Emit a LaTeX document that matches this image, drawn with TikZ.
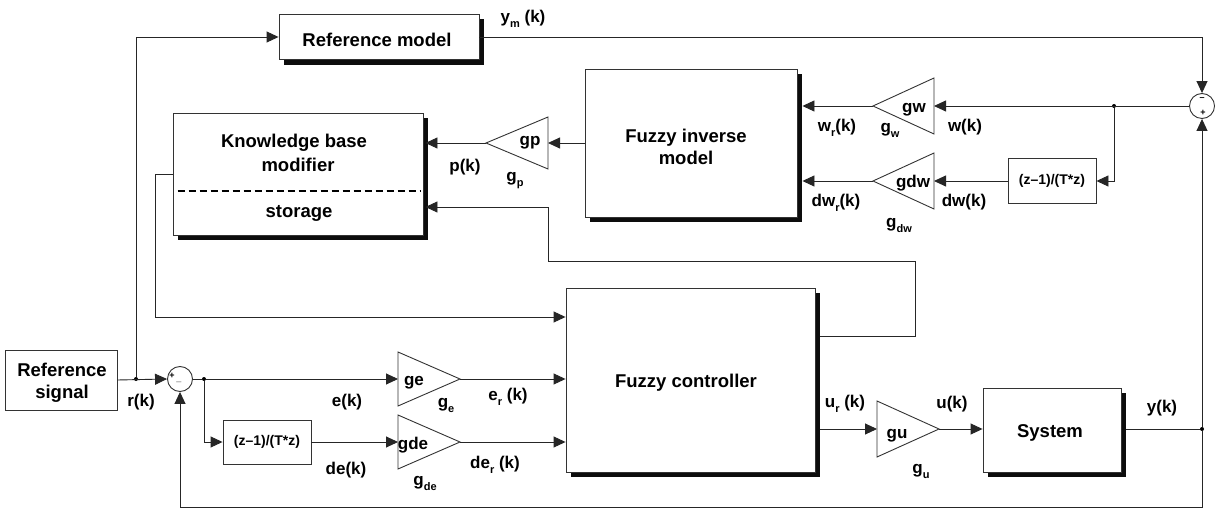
\documentclass[tikz,border=0pt]{standalone}
\usepackage{fontspec}
\setmainfont{Liberation Sans}
\usetikzlibrary{arrows.meta,calc,backgrounds}
\newcommand{\lsub}[1]{\raisebox{-5pt}{\fontsize{11}{11}\selectfont #1}}
\begin{document}
\begin{tikzpicture}[x=1pt,y=-1pt,
 ln/.style={draw=black!85, line width=0.9pt},
 arr/.style={ln, -{Triangle[length=12pt,width=11pt]}},
 blk/.style={draw=black!80, line width=0.9pt, fill=white, rectangle, inner sep=0pt},
 shd/.style={blk},
 shadowfill/.style={fill=black!95},
 big/.style={font=\fontsize{18.5}{22}\selectfont\bfseries, align=center, inner sep=0pt},
 lbl/.style={font=\fontsize{17}{20}\selectfont\bfseries, inner sep=0pt},
 small/.style={font=\fontsize{14}{16}\selectfont\bfseries, inner sep=0pt},
 sumc/.style={circle, draw=black!80, line width=0.9pt, minimum size=25pt, inner sep=0pt, fill=white},
 sgn/.style={font=\fontsize{9}{9}\selectfont\bfseries, inner sep=0pt},
 gain/.style={draw=black!80, line width=0.9pt, fill=white},
 dot/.style={circle, fill=black, inner sep=0pt, minimum size=4pt},
]
\useasboundingbox (0,0) rectangle (1217,518);

% boxes
\node[shd, minimum width=200pt, minimum height=45pt] (refm) at (379,37) {};
\node[big] (refmt) at (377,40) {Reference model};
\node[shd, minimum width=250pt, minimum height=122pt] (kb) at (298,174) {};
\node[big] (kbt1) at (294,143) {Knowledge base};
\node[big] (kbt2) at (298,165) {modifier};
\node[big] (kbt3) at (299,213) {storage};
\draw[line width=1.2pt, dash pattern=on 7.5pt off 3.5pt] ($(kb.west)+(5,17)$) -- ($(kb.east)+(-3,17)$);
\node[shd, minimum width=212pt, minimum height=148pt] (fim) at (691,143) {};
\node[big] (fimt) at (686,147) {Fuzzy inverse\\model};
\node[shd, minimum width=249pt, minimum height=184pt] (fc) at (690.5,380) {};
\node[big] (fct) at (686,383) {Fuzzy controller};
\node[shd, minimum width=138pt, minimum height=84pt] (sys) at (1052,430) {};
\node[big] (syst) at (1050,433) {System};
\node[blk, minimum width=112pt, minimum height=60pt] (refs) at (61,380) {};
\node[big] (refst) at (62,383) {Reference\\signal};
\node[blk, minimum width=88pt, minimum height=44pt, small] (d1) at (267,442) {(z--1)/(T*z)};
\node[blk, minimum width=88pt, minimum height=45pt, small] (d2) at (1052,181) {(z--1)/(T*z)};

\begin{scope}[on background layer]
\fill[white] (0,0) rectangle (1217,518);
\foreach \b in {refm,kb,fim,fc,sys}
  \fill[shadowfill] ($(\b.north west)+(5,5)$) rectangle ($(\b.south east)+(5,5)$);
\end{scope}

% sum junctions
\node[sumc] (s1) at (180,379) {};
\node[sgn] (s1p) at (172,376) {+};
\node[sgn] (s1m) at (179,382) {\_};
\node[sumc] (s2) at (1202,106) {};
\node[sgn] (s2m) at (1202,99) {--};
\node[sgn] (s2p) at (1203,113) {+};

% gains (right pointing)
\path[gain] (398,352) -- (460,379) -- (398,406) -- cycle;
\coordinate (ge-in) at (398,379); \coordinate (ge-out) at (460,379);
\path[gain] (398,415) -- (460,442) -- (398,469) -- cycle;
\coordinate (gde-in) at (398,442); \coordinate (gde-out) at (460,442);
\path[gain] (877,401) -- (939,429) -- (877,457) -- cycle;
\coordinate (gu-in) at (877,429); \coordinate (gu-out) at (939,429);
% gains (left pointing)
\path[gain] (548,117) -- (486,143) -- (548,169) -- cycle;
\coordinate (gp-in) at (548,143); \coordinate (gp-out) at (486,143);
\path[gain] (934,78) -- (873,106) -- (934,134) -- cycle;
\coordinate (gw-in) at (934,106); \coordinate (gw-out) at (873,106);
\path[gain] (934,153) -- (873,181) -- (934,209) -- cycle;
\coordinate (gdw-in) at (934,181); \coordinate (gdw-out) at (873,181);

\node[lbl] (get) at (414,383) {ge};
\node[lbl] (gdet) at (413,445) {gde};
\node[lbl] (gut) at (897,436) {gu};
\node[lbl] (gpt) at (530,143) {gp};
\node[lbl] (gwt) at (914,110) {gw};
\node[lbl] (gdwt) at (913,183) {gdw};

% junction dots
\node[dot] (jr) at (136,379) {};
\node[dot] (je) at (204,379) {};
\node[dot] (jw) at (1114,106) {};
\node[dot] (jy) at (1202,429) {};
\coordinate (ymc) at (1202,37);
\coordinate (fbr) at (1202,507);
\coordinate (kbo) at (155,317);
\coordinate (k1) at (915,261);
\coordinate (k2) at (548,207);

% connectors
\draw[arr] (refs.east) -- (s1.west);
\draw[arr] (jr) |- (refm.west);
\draw[ln] (s1.east) -- (je);
\draw[arr] (je) -- (ge-in);
\draw[arr] (je) |- (d1.west);
\draw[arr] (d1.east) -- (gde-in);
\draw[arr] (ge-out) -- (fc.west |- ge-out);
\draw[arr] (gde-out) -- (fc.west |- gde-out);
\draw[arr] (kb.west) -| (kbo) -- (fc.west |- kbo);
\draw[arr] ([xshift=5pt]fc.east |- gu-in) -- (gu-in);
\draw[arr] (gu-out) -- (sys.west |- gu-out);
\draw[ln] ([xshift=5pt]sys.east |- jy) -- (jy);
\draw[arr] (jy) -- (s2.south);
\draw[arr] (jy) -- (fbr) -| (s1.south);
\draw[arr] (refm.east) -- (ymc) -- (s2.north);
\draw[arr] (s2.west) -- (gw-in);
\draw[arr] (jw) |- (d2.east);
\draw[arr] (d2.west) -- (gdw-in);
\draw[arr] (gw-out) -- ([xshift=5pt]fim.east |- gw-out);
\draw[arr] (gdw-out) -- ([xshift=5pt]fim.east |- gdw-out);
\draw[arr] (fim.west) -- (gp-in);
\draw[arr] (gp-out) -- ([xshift=2pt]kb.east |- gp-out);
\draw[arr] ([xshift=5pt,yshift=44pt]fc.east) -| (k1) -| (k2) -- ([xshift=2pt]kb.east |- k2);

% signal labels
\node[lbl] (lym) at (523,19) {y\lsub{m} (k)};
\node[lbl] (lr) at (141,402) {r(k)};
\node[lbl] (le) at (347,402) {e(k)};
\node[lbl] (lde) at (346,470) {de(k)};
\node[lbl] (ler) at (508,397) {e\lsub{r} (k)};
\node[lbl] (lder) at (495,465) {de\lsub{r} (k)};
\node[lbl] (lge) at (446,405) {g\lsub{e}};
\node[lbl] (lgde) at (425,483) {g\lsub{de}};
\node[lbl] (lur) at (845,404) {u\lsub{r} (k)};
\node[lbl] (lu) at (952,404) {u(k)};
\node[lbl] (lgu) at (921,471) {g\lsub{u}};
\node[lbl] (ly) at (1162,408) {y(k)};
\node[lbl] (lp) at (465,167) {p(k)};
\node[lbl] (lgp) at (515,181) {g\lsub{p}};
\node[lbl] (lwr) at (837,128) {w\lsub{r}(k)};
\node[lbl] (lgw) at (890,130) {g\lsub{w}};
\node[lbl] (lw) at (965,127) {w(k)};
\node[lbl] (ldwr) at (836,203) {dw\lsub{r}(k)};
\node[lbl] (ldw) at (964,202) {dw(k)};
\node[lbl] (lgdw) at (899,225) {g\lsub{dw}};
\end{tikzpicture}
\end{document}
